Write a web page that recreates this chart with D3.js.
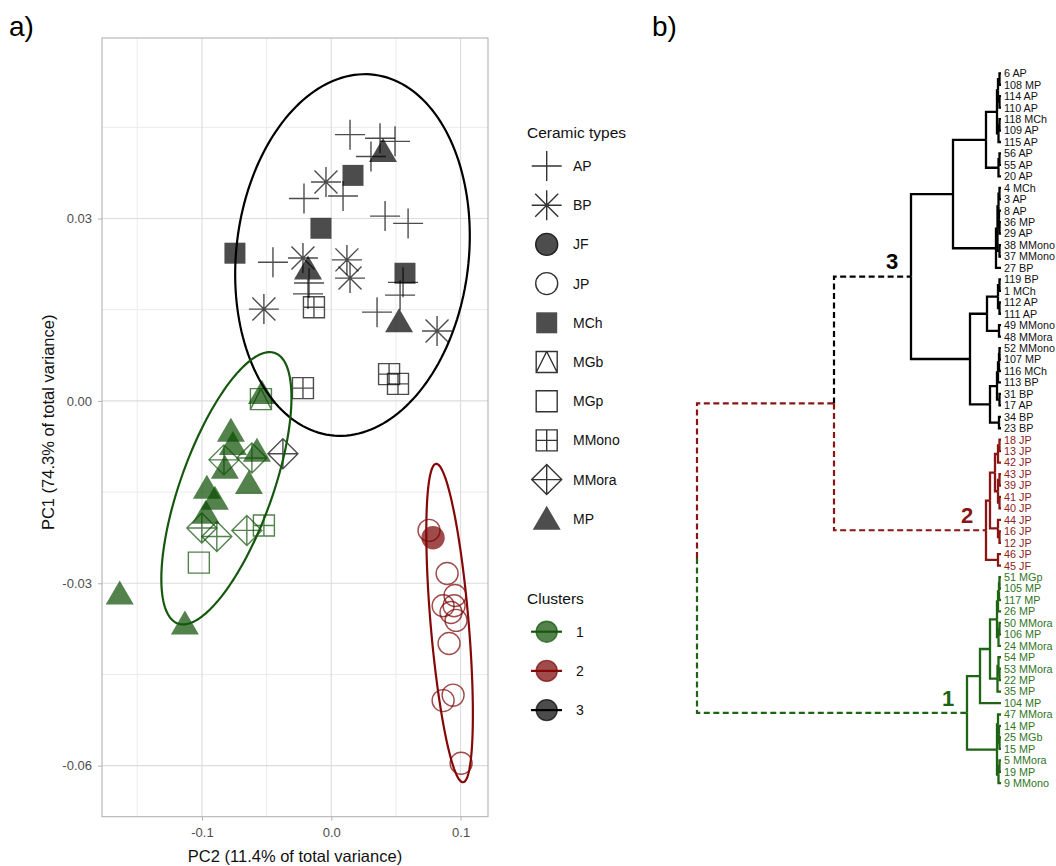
<!DOCTYPE html>
<html><head><meta charset="utf-8">
<script src="https://cdn.jsdelivr.net/npm/d3@7"></script>
<style>body{margin:0;background:#fff} text{font-family:"Liberation Sans",Arial,sans-serif}</style>
</head><body><svg id="c" width="1056" height="866"></svg>
<script>
// ---------------- DATA ----------------
const ceramicTypes = ["AP","BP","JF","JP","MCh","MGb","MGp","MMono","MMora","MP"];
const clusterIds = ["1","2","3"];
const xTicks = [-0.1, 0.0, 0.1];
const yTicks = [0.03, 0.00, -0.03, -0.06];
const xMinor = [-0.15, -0.05, 0.05];
const yMinor = [0.045, 0.015, -0.015, -0.045];
const xTitle = "PC2 (11.4% of total variance)";
const yTitle = "PC1 (74.3% of total variance)";

const pointType = [
 "AP","AP","AP","AP","AP","AP","AP","AP","AP","AP","AP","AP","AP","AP",
 "BP","BP","BP","BP","BP","BP",
 "MCh","MCh","MCh","MCh",
 "MP","MP","MP",
 "MMono","MMono","MMono","MMono",
 "MMora",
 "MP","MP","MP","MP","MP","MP","MP","MP","MP","MP","MP",
 "MMora","MMora","MMora","MMora","MMora",
 "MMono","MGp","MGb",
 "JF","JP","JP","JP","JP","JP","JP","JP","JP","JP","JP","JP"];
const pointPC2 = [
 0.0145,0.0377,0.0493,0.0307,-0.0211,0.0091,0.0416,0.0594,-0.0451,-0.0180,0.0555,0.0532,0.0354,-0.0172,
 -0.0041,-0.0219,0.0121,0.0145,-0.0521,0.0818,
 0.0168,-0.0080,-0.0745,0.0570,
 0.0400,-0.0180,0.0524,
 -0.0134,0.0447,0.0516,-0.0219,
 -0.0374,
 -0.0536,-0.0776,-0.0761,-0.0575,-0.0823,-0.0637,-0.0962,-0.0900,-0.0970,-0.1636,-0.1132,
 -0.0830,-0.0614,-0.1001,-0.0885,-0.0653,
 -0.0521,-0.1024,-0.0544,
 0.0787,0.0756,0.0896,0.0957,0.0865,0.0950,0.0965,0.0926,0.0911,0.0865,0.0942,0.1004];
const pointPC1 = [
 0.0438,0.0432,0.0427,0.0402,0.0333,0.0337,0.0304,0.0292,0.0228,0.0176,0.0195,0.0174,0.0146,0.0194,
 0.0360,0.0235,0.0232,0.0202,0.0151,0.0115,
 0.0371,0.0284,0.0243,0.0210,
 0.0411,0.0218,0.0131,
 0.0154,0.0044,0.0028,0.0021,
 -0.0087,
 0.0013,-0.0049,-0.0071,-0.0082,-0.0110,-0.0135,-0.0143,-0.0161,-0.0184,-0.0317,-0.0366,
 -0.0097,-0.0094,-0.0209,-0.0223,-0.0213,
 -0.0205,-0.0266,0.0003,
 -0.0225,-0.0213,-0.0284,-0.0320,-0.0337,-0.0337,-0.0361,-0.0348,-0.0399,-0.0493,-0.0484,-0.0596];
const pointCluster = [
 "3","3","3","3","3","3","3","3","3","3","3","3","3","3",
 "3","3","3","3","3","3",
 "3","3","3","3",
 "3","3","3",
 "3","3","3","3",
 "3",
 "1","1","1","1","1","1","1","1","1","1","1",
 "1","1","1","1","1",
 "1","1","1",
 "2","2","2","2","2","2","2","2","2","2","2","2"];

// confidence ellipses (centre and two conjugate semi-axes, in data units)
const ellipseCluster = ["3","1","2"];
const ellipseCenterPC2 = [0.0164, -0.0811, 0.0915];
const ellipseCenterPC1 = [0.0240, -0.01437, -0.03654];
const ellipseAxisA_PC2 = [0.0906, 0.03754, -0.01045];
const ellipseAxisA_PC1 = [0.00164, 0.02225, 0.02619];
const ellipseAxisB_PC2 = [0.00464, 0.03351, 0.01466];
const ellipseAxisB_PC1 = [0.0297, -0.00255, 0.000263];

// dendrogram: merge heights (distance units) and leaf labels
const N = (h, ...c) => ({h, c});
const K = (k, node) => Object.assign(node, {k});
const cluster3Tree = K("3", N(90,
  N(48,
    N(15,
      N(4, N(3, N(1.5,"6 AP","108 MP"), N(1.5,"114 AP","110 AP")), N(2.5, N(1.5,"118 MCh","109 AP"),"115 AP")),
      N(2.5, N(1.5,"56 AP","55 AP"),"20 AP")),
    N(5, N(3.5, N(2.5, N(1.5,"4 MCh","3 AP"), N(2,"8 AP", N(1.5,"36 MP","29 AP"))), N(1.5,"38 MMono","37 MMono")), "27 BP")),
  N(31,
    N(14, N(3, N(1.5,"119 BP","1 MCh"), N(1.5,"112 AP","111 AP")), N(2,"49 MMono","48 MMora")),
    N(11, N(4, N(3, N(2, N(1.5,"52 MMono","107 MP"),"116 MCh"),"113 BP"), N(1.5,"31 BP","17 AP")), N(2,"34 BP","23 BP")))));
const cluster2Tree = K("2", N(15,
  N(11, N(6, N(3, N(1.5,"18 JP","13 JP"),"42 JP"), N(3, N(1.5,"43 JP","39 JP"), N(1.5,"41 JP","40 JP"))), N(3,"44 JP", N(1.5,"16 JP","12 JP"))),
  N(3,"46 JP","45 JF")));
const cluster1Tree = K("1", N(34,
  N(21,
    N(11,
      N(4, N(3, N(2, N(1.5,"51 MGp","105 MP"),"117 MP"),"26 MP"), N(2.5, N(1.5,"50 MMora","106 MP"),"24 MMora")),
      N(3.5, N(2.5,"54 MP", N(1.5,"53 MMora","22 MP")),"35 MP")),
    "104 MP"),
  N(4, N(3,"47 MMora", N(2,"14 MP", N(1.5,"25 MGb","15 MP"))), N(2.5, N(1.5,"5 MMora","19 MP"),"9 MMono"))));
const dendroTree = N(304, N(167, cluster3Tree, cluster2Tree), cluster1Tree);

// ---------------- STYLE ----------------
const ptColor = {"1":"#0a4d00","2":"#780000","3":"#000000"};
const ellColor = {"1":"#15580d","2":"#840808","3":"#000000"};
const denColor = {"1":"#1e6414","2":"#8b1414","3":"#000000"};
const labColor = {"1":"#2f7524","2":"#8e2222","3":"#111111"};

const svg = d3.select("#c");

// ---------------- SCATTER ----------------
const P = {l:102, r:488, t:38, b:816.7};
const x = d3.scaleLinear().domain([-0.1773, 0.1212]).range([P.l, P.r]);
const y = d3.scaleLinear().domain([-0.0684, 0.0597]).range([P.b, P.t]);

const grid = svg.append("g");
grid.selectAll(".vx").data(xMinor).join("line").attr("x1",d=>x(d)).attr("x2",d=>x(d)).attr("y1",P.t).attr("y2",P.b).attr("stroke","#ebebeb").attr("stroke-width",1);
grid.selectAll(".hy").data(yMinor).join("line").attr("y1",d=>y(d)).attr("y2",d=>y(d)).attr("x1",P.l).attr("x2",P.r).attr("stroke","#ebebeb").attr("stroke-width",1);
grid.selectAll(".Vx").data(xTicks).join("line").attr("x1",d=>x(d)).attr("x2",d=>x(d)).attr("y1",P.t).attr("y2",P.b).attr("stroke","#dcdcdc").attr("stroke-width",1.1);
grid.selectAll(".Hy").data(yTicks).join("line").attr("y1",d=>y(d)).attr("y2",d=>y(d)).attr("x1",P.l).attr("x2",P.r).attr("stroke","#dcdcdc").attr("stroke-width",1.1);

function drawSym(g, type, c, sw) {
  sw = sw || 1.4;
  const line = d => g.append("path").attr("d", d).attr("fill","none").attr("stroke", c).attr("stroke-width", sw);
  const s = 10.5;
  switch (type) {
    case "AP": line("M-15,0H15M0,-15V15"); break;
    case "BP": line("M-15,0H15M0,-15V15M-11.5,-11.5L11.5,11.5M-11.5,11.5L11.5,-11.5"); break;
    case "JF": g.append("circle").attr("r",11).attr("fill",c).attr("stroke",c).attr("stroke-width",sw); break;
    case "JP": g.append("circle").attr("r",11).attr("fill","none").attr("stroke",c).attr("stroke-width",sw); break;
    case "MCh": g.append("rect").attr("x",-s).attr("y",-s).attr("width",2*s).attr("height",2*s).attr("fill",c); break;
    case "MGb": line(`M${-s},${-s}H${s}V${s}H${-s}ZM0,${-s}L${-s},${s}M0,${-s}L${s},${s}`); break;
    case "MGp": line(`M${-s},${-s}H${s}V${s}H${-s}Z`); break;
    case "MMono": line(`M${-s},${-s}H${s}V${s}H${-s}ZM0,${-s}V${s}M${-s},0H${s}`); break;
    case "MMora": line("M0,-15L15,0L0,15L-15,0ZM-15,0H15M0,-15V15"); break;
    case "MP": g.append("path").attr("d","M0,-13L14,11H-14Z").attr("fill",c); break;
  }
}

// points
const pts = svg.append("g");
pointType.forEach((t, i) => {
  const g = pts.append("g").attr("transform", `translate(${x(pointPC2[i])},${y(pointPC1[i])})`).attr("opacity", 0.7);
  drawSym(g, t, ptColor[pointCluster[i]]);
});

// ellipses
const eLine = d3.line().x(d=>x(d[0])).y(d=>y(d[1])).curve(d3.curveLinearClosed);
ellipseCluster.forEach((k, i) => {
  const ptsE = d3.range(0, 180).map(j => {
    const t = j / 180 * 2 * Math.PI;
    return [ellipseCenterPC2[i] + ellipseAxisA_PC2[i]*Math.cos(t) + ellipseAxisB_PC2[i]*Math.sin(t),
            ellipseCenterPC1[i] + ellipseAxisA_PC1[i]*Math.cos(t) + ellipseAxisB_PC1[i]*Math.sin(t)];
  });
  svg.append("path").attr("d", eLine(ptsE)).attr("fill","none").attr("stroke", ellColor[k]).attr("stroke-width", 2.2);
});

// border
svg.append("rect").attr("x",P.l).attr("y",P.t).attr("width",P.r-P.l).attr("height",P.b-P.t).attr("fill","none").attr("stroke","#b3b3b3").attr("stroke-width",1.1);

// axes
const ax = svg.append("g").attr("transform",`translate(0,${P.b})`)
  .call(d3.axisBottom(x).tickValues(xTicks).tickFormat(d=>d.toFixed(1)).tickSize(4).tickPadding(7));
const ay = svg.append("g").attr("transform",`translate(${P.l},0)`)
  .call(d3.axisLeft(y).tickValues(yTicks).tickFormat(d=>d.toFixed(2)).tickSize(4).tickPadding(6));
[ax, ay].forEach(a => {
  a.select(".domain").remove();
  a.selectAll(".tick line").attr("stroke","#b3b3b3");
  a.selectAll(".tick text").attr("fill","#4d4d4d").attr("font-size","13px").attr("font-family","Liberation Sans, Arial, sans-serif");
});

svg.append("text").attr("x",(P.l+P.r)/2).attr("y",862).attr("text-anchor","middle").attr("font-size","16.5px").attr("fill","#111").text(xTitle);
svg.append("text").attr("transform",`translate(54,${(P.t+P.b)/2 - 5}) rotate(-90)`).attr("text-anchor","middle").attr("font-size","16.5px").attr("fill","#111").text(yTitle);

svg.append("text").attr("x",9).attr("y",36).attr("font-size","28px").attr("fill","#000").text("a)");
svg.append("text").attr("x",652).attr("y",36).attr("font-size","28px").attr("fill","#000").text("b)");

// legend: ceramic types
const lg = svg.append("g");
lg.append("text").attr("x",527).attr("y",138).attr("font-size","15.5px").attr("fill","#111").text("Ceramic types");
ceramicTypes.forEach((t, i) => {
  const cy = 166 + i * 39.2;
  const g = lg.append("g").attr("transform",`translate(546.7,${cy})`);
  if (t === "JF") {
    g.append("circle").attr("r",11).attr("fill","#4d4d4d").attr("stroke","#222").attr("stroke-width",1.4);
  } else {
    drawSym(g, t, (t==="MCh"||t==="MP") ? "#4d4d4d" : "#333", 1.4);
  }
  lg.append("text").attr("x",573).attr("y",cy+5).attr("font-size","14px").attr("fill","#111").text(t);
});
// legend: clusters
lg.append("text").attr("x",527).attr("y",604).attr("font-size","15.5px").attr("fill","#111").text("Clusters");
clusterIds.forEach((k, i) => {
  const cy = 631.7 + i * 39.2;
  lg.append("circle").attr("cx",546.7).attr("cy",cy).attr("r",10.5).attr("fill",ptColor[k]).attr("fill-opacity",0.7).attr("stroke",ptColor[k]).attr("stroke-opacity",0.7).attr("stroke-width",1.4);
  lg.append("line").attr("x1",531).attr("x2",562).attr("y1",cy).attr("y2",cy).attr("stroke",ellColor[k]).attr("stroke-width",2.2);
  lg.append("text").attr("x",576).attr("y",cy+5).attr("font-size","14px").attr("fill","#111").text(k);
});

// ---------------- DENDROGRAM ----------------
const root = d3.hierarchy(dendroTree, d => (typeof d === "string") ? null : d.c);
const leaves = root.leaves();
const hx = d3.scaleLinear().domain([0, 304]).range([1001, 697]);
const ly = d3.scaleLinear().domain([0, leaves.length - 1]).range([73.3, 783.2]);
leaves.forEach((l, i) => { l.py = ly(i); });
root.eachAfter(n => {
  const h = (typeof n.data === "string") ? 0 : n.data.h;
  n.px = hx(h);
  if (n.children) n.py = d3.mean(n.children, c => c.py);
});
root.eachBefore(n => {
  if (typeof n.data !== "string" && n.data.k) n.k = n.data.k;
  else if (n.parent && n.parent.k) n.k = n.parent.k;
});
// uncoloured internal node above clusters takes the colour of its last child
root.eachAfter(n => { if (!n.k && n.children) n.ek = n.children[n.children.length-1].k || n.children[n.children.length-1].ek; });

const dg = svg.append("g");
root.descendants().forEach(n => {
  if (!n.parent) return;
  const p = n.parent;
  const col = denColor[n.k || n.ek];
  const dashed = !p.k;
  dg.append("path").attr("d", `M${p.px},${p.py}V${n.py}H${n.px}`)
    .attr("fill","none").attr("stroke", col).attr("stroke-width", dashed ? 2.2 : 2.3)
    .attr("stroke-dasharray", dashed ? "6,3.5" : null);
});
leaves.forEach(l => {
  dg.append("text").attr("x", 1004).attr("y", l.py).attr("dy","0.36em").attr("font-size","10.8px")
    .attr("fill", labColor[l.k]).text(l.data);
});
root.descendants().filter(n => typeof n.data !== "string" && n.data.k).forEach(n => {
  dg.append("text").attr("x", n.px - 19).attr("y", n.py - 15).attr("dy","0.36em").attr("text-anchor","middle")
    .attr("font-size","22px").attr("font-weight","bold").attr("fill", denColor[n.k]).text(n.data.k);
});
</script></body></html>
